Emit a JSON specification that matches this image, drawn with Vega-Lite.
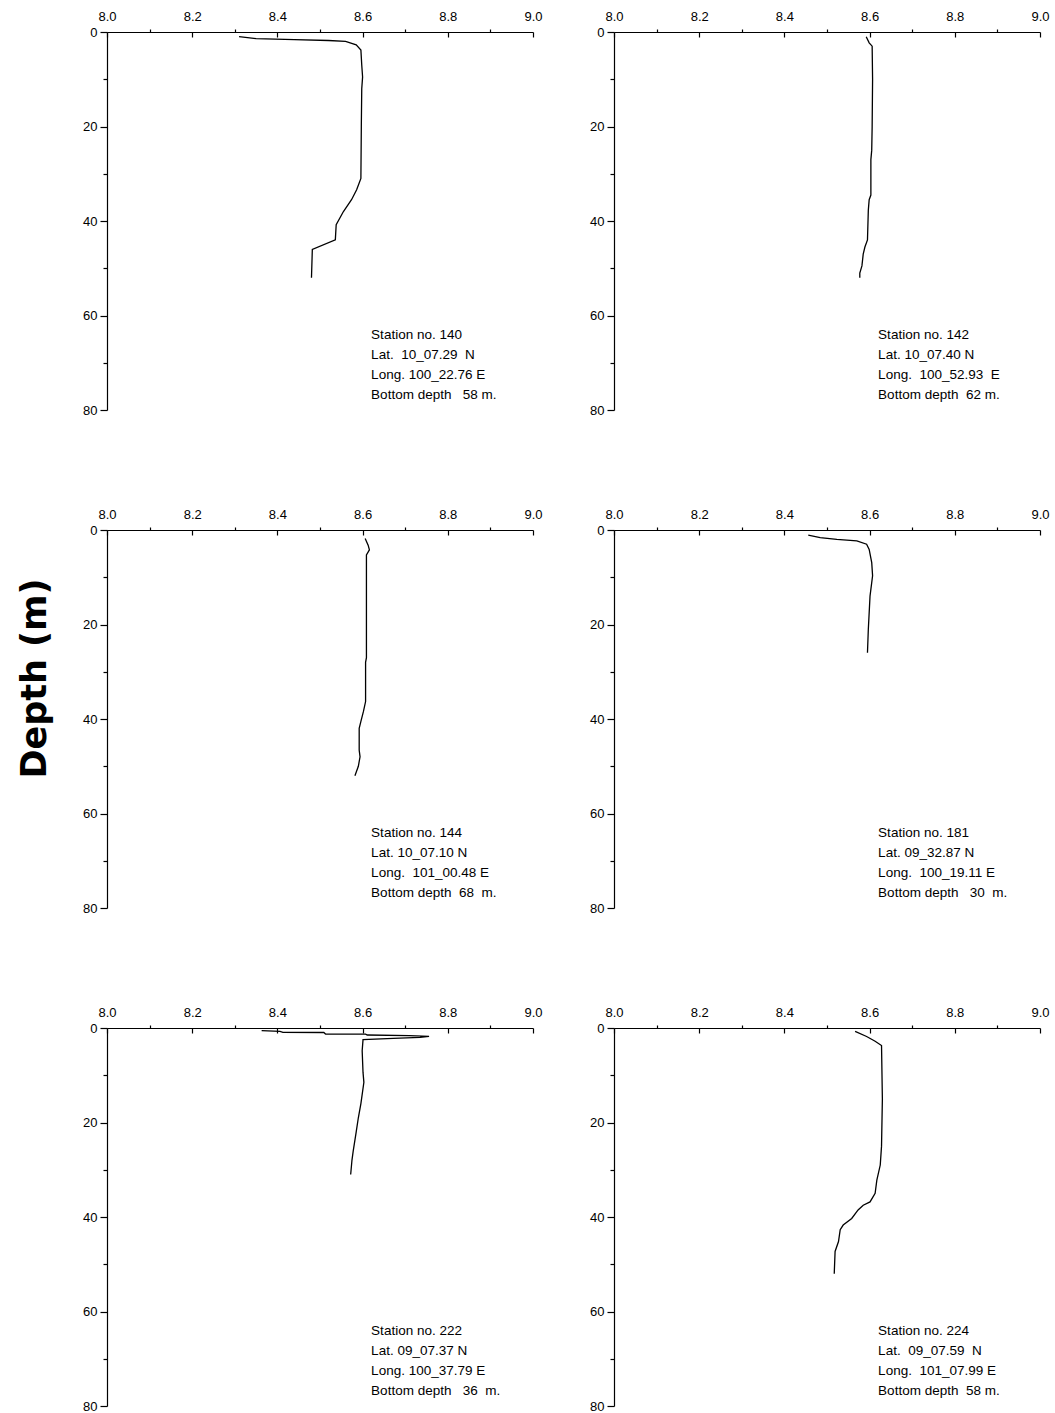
{
  "$schema": "https://vega.github.io/schema/vega-lite/v6.json",
  "background": "white",
  "padding": {"left": 17, "top": 2, "right": 5, "bottom": 0},
  "title": {"text": "Depth (m)", "orient": "left", "anchor": "middle", "font": "DejaVu Sans", "fontSize": 35, "fontWeight": "bold", "color": "black", "offset": 30, "dx": 29},
  "data": {"values": [
    {"s":"140","ph":8.31,"depth":1.0},{"s":"140","ph":8.35,"depth":1.4},{"s":"140","ph":8.44,"depth":1.6},{"s":"140","ph":8.52,"depth":1.8},{"s":"140","ph":8.56,"depth":2.0},{"s":"140","ph":8.585,"depth":2.7},{"s":"140","ph":8.596,"depth":3.8},{"s":"140","ph":8.598,"depth":7.0},{"s":"140","ph":8.6,"depth":9.5},{"s":"140","ph":8.598,"depth":12.0},{"s":"140","ph":8.597,"depth":20.0},{"s":"140","ph":8.596,"depth":31.0},{"s":"140","ph":8.586,"depth":33.4},{"s":"140","ph":8.574,"depth":35.5},{"s":"140","ph":8.555,"depth":38.0},{"s":"140","ph":8.538,"depth":40.8},{"s":"140","ph":8.536,"depth":44.0},{"s":"140","ph":8.482,"depth":46.0},{"s":"140","ph":8.48,"depth":52.0},
    {"s":"142","ph":8.592,"depth":1.0},{"s":"142","ph":8.599,"depth":2.3},{"s":"142","ph":8.606,"depth":3.0},{"s":"142","ph":8.607,"depth":10.0},{"s":"142","ph":8.606,"depth":20.0},{"s":"142","ph":8.605,"depth":25.0},{"s":"142","ph":8.603,"depth":27.0},{"s":"142","ph":8.603,"depth":34.5},{"s":"142","ph":8.599,"depth":35.5},{"s":"142","ph":8.597,"depth":37.7},{"s":"142","ph":8.595,"depth":44.0},{"s":"142","ph":8.589,"depth":45.5},{"s":"142","ph":8.585,"depth":47.0},{"s":"142","ph":8.582,"depth":49.5},{"s":"142","ph":8.577,"depth":51.0},{"s":"142","ph":8.577,"depth":52.0},
    {"s":"144","ph":8.606,"depth":1.8},{"s":"144","ph":8.613,"depth":3.2},{"s":"144","ph":8.616,"depth":4.2},{"s":"144","ph":8.609,"depth":5.3},{"s":"144","ph":8.609,"depth":27.0},{"s":"144","ph":8.607,"depth":28.0},{"s":"144","ph":8.607,"depth":36.3},{"s":"144","ph":8.602,"depth":38.4},{"s":"144","ph":8.596,"depth":40.5},{"s":"144","ph":8.592,"depth":42.0},{"s":"144","ph":8.592,"depth":46.6},{"s":"144","ph":8.594,"depth":48.0},{"s":"144","ph":8.59,"depth":50.0},{"s":"144","ph":8.582,"depth":52.0},
    {"s":"181","ph":8.456,"depth":1.1},{"s":"181","ph":8.484,"depth":1.6},{"s":"181","ph":8.523,"depth":2.0},{"s":"181","ph":8.57,"depth":2.3},{"s":"181","ph":8.593,"depth":3.0},{"s":"181","ph":8.599,"depth":4.1},{"s":"181","ph":8.605,"depth":6.9},{"s":"181","ph":8.607,"depth":9.7},{"s":"181","ph":8.601,"depth":14.0},{"s":"181","ph":8.597,"depth":21.0},{"s":"181","ph":8.595,"depth":26.0},
    {"s":"222","ph":8.363,"depth":0.56},{"s":"222","ph":8.406,"depth":0.71},{"s":"222","ph":8.413,"depth":0.92},{"s":"222","ph":8.509,"depth":0.95},{"s":"222","ph":8.513,"depth":1.27},{"s":"222","ph":8.607,"depth":1.3},{"s":"222","ph":8.611,"depth":1.48},{"s":"222","ph":8.709,"depth":1.6},{"s":"222","ph":8.756,"depth":1.76},{"s":"222","ph":8.735,"depth":1.98},{"s":"222","ph":8.672,"depth":2.19},{"s":"222","ph":8.601,"depth":2.47},{"s":"222","ph":8.599,"depth":4.8},{"s":"222","ph":8.601,"depth":9.4},{"s":"222","ph":8.603,"depth":11.5},{"s":"222","ph":8.596,"depth":16.0},{"s":"222","ph":8.59,"depth":19.0},{"s":"222","ph":8.585,"depth":22.0},{"s":"222","ph":8.578,"depth":26.0},{"s":"222","ph":8.575,"depth":28.0},{"s":"222","ph":8.572,"depth":31.0},
    {"s":"224","ph":8.566,"depth":0.7},{"s":"224","ph":8.593,"depth":1.8},{"s":"224","ph":8.613,"depth":2.8},{"s":"224","ph":8.628,"depth":3.7},{"s":"224","ph":8.63,"depth":15.0},{"s":"224","ph":8.628,"depth":25.0},{"s":"224","ph":8.625,"depth":29.0},{"s":"224","ph":8.617,"depth":32.2},{"s":"224","ph":8.613,"depth":35.0},{"s":"224","ph":8.601,"depth":36.8},{"s":"224","ph":8.585,"depth":37.5},{"s":"224","ph":8.573,"depth":38.5},{"s":"224","ph":8.558,"depth":40.3},{"s":"224","ph":8.538,"depth":41.7},{"s":"224","ph":8.531,"depth":42.7},{"s":"224","ph":8.527,"depth":45.2},{"s":"224","ph":8.519,"depth":47.3},{"s":"224","ph":8.517,"depth":52.0},
    {"s":"140","info":["Station no. 140","Lat.\u00a0 10_07.29\u00a0 N","Long. 100_22.76 E","Bottom depth\u00a0\u00a0 58 m."]},
    {"s":"142","info":["Station no. 142","Lat. 10_07.40 N","Long.\u00a0 100_52.93\u00a0 E","Bottom depth\u00a0 62 m."]},
    {"s":"144","info":["Station no. 144","Lat. 10_07.10 N","Long.\u00a0 101_00.48 E","Bottom depth\u00a0 68\u00a0 m."]},
    {"s":"181","info":["Station no. 181","Lat. 09_32.87 N","Long.\u00a0 100_19.11 E","Bottom depth\u00a0\u00a0 30\u00a0 m."]},
    {"s":"222","info":["Station no. 222","Lat. 09_07.37 N","Long. 100_37.79 E","Bottom depth\u00a0\u00a0 36\u00a0 m."]},
    {"s":"224","info":["Station no. 224","Lat.\u00a0 09_07.59\u00a0 N","Long.\u00a0 101_07.99 E","Bottom depth\u00a0 58 m."]}
  ]},
  "columns": 2,
  "facet": {"field": "s", "type": "nominal", "header": {"title": null, "labels": false, "labelExpr": "''", "labelFontSize": 0, "labelPadding": 0, "titlePadding": 0}},
  "spacing": {"row": 120, "column": 81},
  "bounds": "flush",
  "spec": {
    "width": 426,
    "height": 378,
    "layer": [
      {
        "transform": [{"filter": "isValid(datum.ph)"}],
        "mark": {"type": "line", "color": "black", "strokeWidth": 1.3},
        "encoding": {
          "x": {"field": "ph", "type": "quantitative", "scale": {"domain": [8, 9], "nice": false, "zero": false},
            "axis": {"orient": "top", "title": null, "values": [8, 8.1, 8.2, 8.3, 8.4, 8.5, 8.6, 8.7, 8.8, 8.9, 9],
              "labelExpr": "abs(datum.value*5 - round(datum.value*5)) < 0.01 ? format(datum.value, '.1f') : ''",
              "tickSize": {"condition": {"test": "abs(datum.value*5 - round(datum.value*5)) < 0.01", "value": -5}, "value": 3},
              "labelPadding": 14, "labelFlush": false, "labelOverlap": false, "grid": false}},
          "y": {"field": "depth", "type": "quantitative", "scale": {"domain": [0, 80], "reverse": true, "nice": false, "zero": false},
            "axis": {"orient": "left", "title": null, "values": [0, 10, 20, 30, 40, 50, 60, 70, 80],
              "labelExpr": "datum.value % 20 === 0 ? datum.label : ''",
              "tickSize": {"condition": {"test": "datum.value % 20 === 0", "value": 7}, "value": 4},
              "labelPadding": 3, "labelOverlap": false, "grid": false}},
          "order": {"field": "depth", "type": "quantitative"}
        }
      },
      {
        "transform": [{"filter": "isValid(datum.info)"}],
        "mark": {"type": "text", "align": "left", "baseline": "top", "font": "Liberation Sans", "fontSize": 13.5, "lineHeight": 20, "color": "black"},
        "encoding": {
          "x": {"datum": 8.62, "type": "quantitative"},
          "y": {"datum": 62.6, "type": "quantitative"},
          "text": {"field": "info", "type": "nominal"}
        }
      }
    ]
  },
  "resolve": {"axis": {"x": "independent", "y": "independent"}},
  "config": {
    "view": {"stroke": null},
    "header": {"labels": false, "title": null},
    "axis": {"domainColor": "black", "domainWidth": 1.2, "tickColor": "black", "tickWidth": 1.2, "labelColor": "black", "labelFont": "Liberation Sans", "labelFontSize": 13}
  }
}
